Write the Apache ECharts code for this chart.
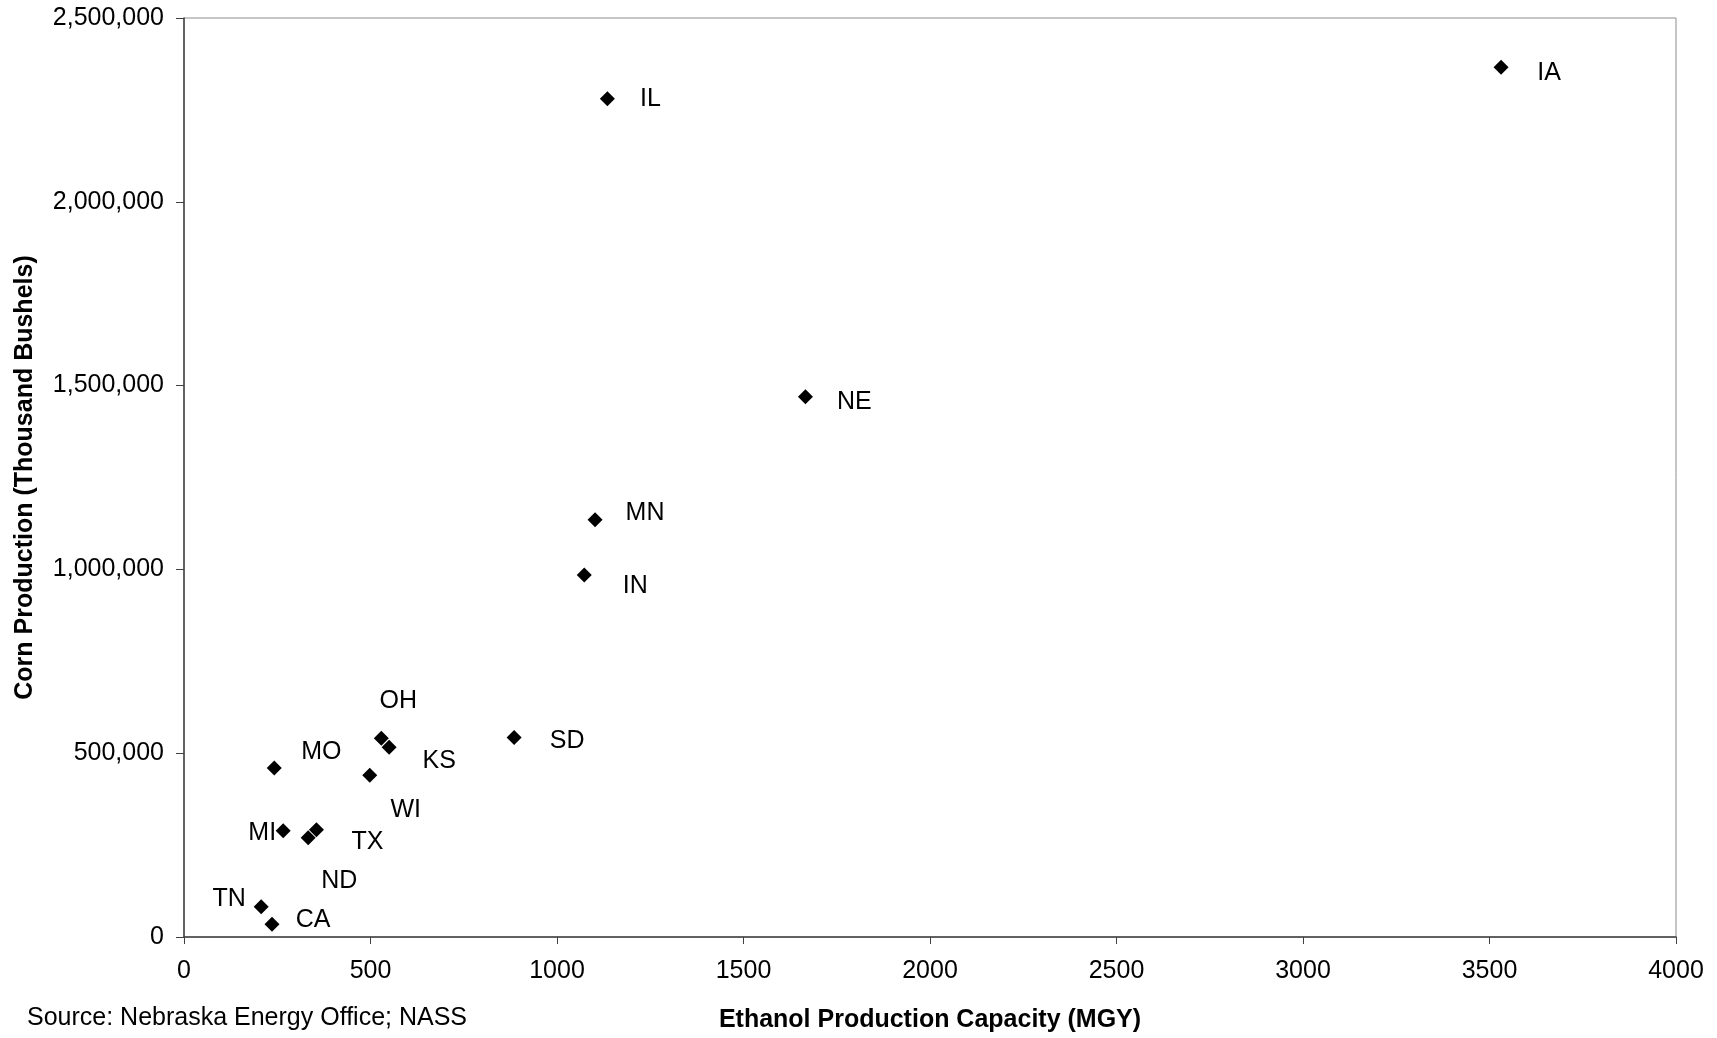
<!DOCTYPE html>
<html>
<head>
<meta charset="utf-8">
<script src="https://cdn.jsdelivr.net/npm/echarts@6/dist/echarts.min.js"></script>
<style>
  html, body { margin: 0; padding: 0; background: #fff; }
  #chart { width: 1717px; height: 1038px; }
</style>
</head>
<body>
<div id="chart"></div>
<script>
// State codes, ethanol capacity (MGY) and corn production (thousand bushels)
const states = ['IA', 'IL', 'NE', 'MN', 'IN', 'OH', 'KS', 'WI', 'SD', 'MO', 'MI', 'TX', 'ND', 'TN', 'CA'];
const ethanolCapacity = [3531, 1135, 1666, 1102, 1073, 529, 550, 498, 885, 242, 266, 355, 333, 207, 236];
const cornProduction = [2366000, 2280000, 1470000, 1135000, 985000, 541000, 516000, 440000, 543000, 460000, 289000, 292000, 270000, 82000, 35000];

const xTicks = { min: 0, max: 4000, interval: 500 };
const yTicks = { min: 0, max: 2500000, interval: 500000 };

// Hand-placed label offsets (px from the marker centre) so the crowded cluster stays legible
const labelOffsets = {
  IA: [48, 6], IL: [43, 0], NE: [49, 5], MN: [50, -7], IN: [51, 11],
  OH: [17, -37], KS: [50, 14], WI: [36, 35], SD: [53, 4], MO: [47, -16],
  MI: [-21, 2], TX: [51, 12], ND: [31, 43], TN: [-32, -8], CA: [41, -4]
};

const FONT = '"Liberation Sans", Arial, sans-serif';

const points = states.map((s, i) => ({
  name: s,
  value: [ethanolCapacity[i], cornProduction[i]],
  label: { offset: labelOffsets[s] }
}));

const chart = echarts.init(document.getElementById('chart'), null, { renderer: 'canvas' });
chart.setOption({
  animation: false,
  backgroundColor: '#fff',
  textStyle: { fontFamily: FONT },
  grid: {
    left: 184, right: 41, top: 18, bottom: 100,
    show: true, borderColor: '#8c8c8c', borderWidth: 1, backgroundColor: 'transparent'
  },
  xAxis: {
    type: 'value',
    min: xTicks.min, max: xTicks.max, interval: xTicks.interval,
    name: 'Ethanol Production Capacity (MGY)',
    nameLocation: 'middle', nameGap: 71,
    nameTextStyle: { fontFamily: FONT, fontSize: 25, fontWeight: 'bold', color: '#000' },
    axisLine: { show: true, lineStyle: { color: '#404040', width: 1.5 } },
    axisTick: { show: true, length: 7, lineStyle: { color: '#404040' } },
    axisLabel: { margin: 22, fontFamily: FONT, fontSize: 25, color: '#000', formatter: v => String(v) },
    splitLine: { show: false }
  },
  yAxis: {
    type: 'value',
    min: yTicks.min, max: yTicks.max, interval: yTicks.interval,
    name: 'Corn Production (Thousand Bushels)',
    nameLocation: 'middle', nameGap: 146, nameRotate: 90,
    nameTextStyle: { fontFamily: FONT, fontSize: 25, fontWeight: 'bold', color: '#000' },
    axisLine: { show: true, lineStyle: { color: '#404040', width: 1.5 } },
    axisTick: { show: true, length: 8, lineStyle: { color: '#404040' } },
    axisLabel: {
      margin: 20, fontFamily: FONT, fontSize: 25, color: '#000',
      formatter: v => v.toLocaleString('en-US')
    },
    splitLine: { show: false }
  },
  series: [{
    type: 'scatter',
    symbol: 'diamond',
    symbolSize: 15,
    itemStyle: { color: '#000', opacity: 1 },
    label: {
      show: true,
      position: 'inside',
      align: 'center',
      verticalAlign: 'middle',
      formatter: p => p.name,
      fontFamily: FONT, fontSize: 25, color: '#000'
    },
    data: points
  }],
  graphic: [{
    type: 'text',
    left: 27,
    top: 1006,
    style: { text: 'Source: Nebraska Energy Office; NASS', font: '25px ' + FONT, fill: '#000' }
  }]
});
</script>
</body>
</html>
